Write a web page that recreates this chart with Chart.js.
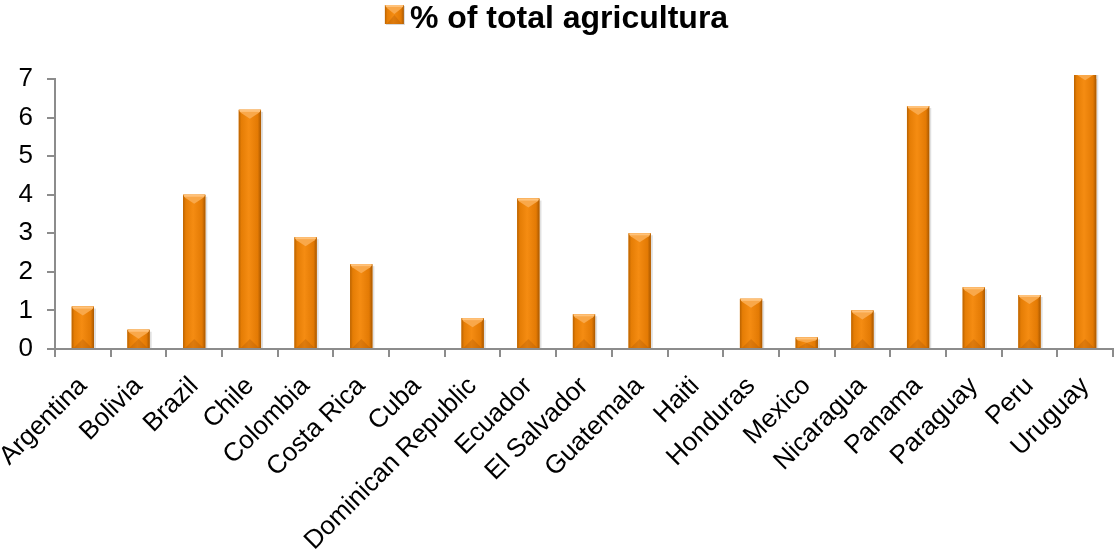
<!DOCTYPE html>
<html>
<head>
<meta charset="utf-8">
<script src="https://cdn.jsdelivr.net/npm/chart.js@4/dist/chart.umd.min.js"></script>
<style>
  html, body { margin: 0; padding: 0; background: #fff; }
  #wrap { width: 1115px; height: 554px; position: relative; }
</style>
</head>
<body>
<div id="wrap"><canvas id="agri"></canvas></div>
<script>
// countries and share of total agriculture (%)
var countries = ["Argentina", "Bolivia", "Brazil", "Chile", "Colombia", "Costa Rica", "Cuba",
  "Dominican Republic", "Ecuador", "El Salvador", "Guatemala", "Haiti", "Honduras", "Mexico",
  "Nicaragua", "Panama", "Paraguay", "Peru", "Uruguay"]
var agriShare = [1.1, 0.5, 4.0, 6.2, 2.9, 2.2, 0, 0.8, 3.9, 0.9, 3.0, 0, 1.3, 0.3, 1.0, 6.3, 1.6, 1.4, 7.2]
var yTicks = [0, 1, 2, 3, 4, 5, 6, 7]
var seriesName = "% of total agricultura"

var orange = "#EE8207"
var fontFam = "'Liberation Sans', Arial, sans-serif"

// bevelled orange block, used for bars and the legend swatch
function bevelBlock(ctx, l, top, w, h, base) {
  var r = l + w, cx = l + w / 2
  var g = ctx.createLinearGradient(l, 0, r, 0)
  g.addColorStop(0, "#B96200")
  g.addColorStop(0.12, "#E57D05")
  g.addColorStop(0.45, "#F58C12")
  g.addColorStop(0.85, "#E37A04")
  g.addColorStop(1, "#A95800")
  ctx.fillStyle = g
  ctx.fillRect(l, top, w, h)
  var b = Math.min(w / 2, h / 2, 9)
  ctx.fillStyle = "#F9A84A"
  ctx.beginPath()
  ctx.moveTo(l, top); ctx.lineTo(r, top); ctx.lineTo(r - 2, top + 3)
  ctx.lineTo(cx, top + b); ctx.lineTo(l + 2, top + 3); ctx.closePath()
  ctx.fill()
  ctx.fillStyle = "#FFC27A"
  ctx.fillRect(l + 1, top, w - 2, 2)
  ctx.fillStyle = "rgba(150,70,0,0.25)"
  ctx.beginPath()
  ctx.moveTo(l + 2, base); ctx.lineTo(r - 2, base); ctx.lineTo(cx, base - b); ctx.closePath()
  ctx.fill()
}

// extra room under the legend
var legendGap = {
  id: 'legendGap',
  afterInit: function(chart) {
    var lg = chart.legend
    if (!lg) return
    var fit = lg.fit
    lg.fit = function() {
      fit.call(this)
      this.height += 34
    }
  }
}

// bars with bevel shading, plus the legend swatch
var bevelBars = {
  id: 'bevelBars',
  afterDatasetsDraw: function(chart) {
    var ctx = chart.ctx
    var area = chart.chartArea
    var meta = chart.getDatasetMeta(0)
    ctx.save()
    ctx.beginPath()
    ctx.rect(area.left, area.top - 4, area.right - area.left, area.bottom - area.top + 4)
    ctx.clip()
    meta.data.forEach(function(bar) {
      var p = bar.getProps(['x', 'y', 'base', 'width'], true)
      var h = p.base - p.y
      if (h < 1) return
      var l = p.x - p.width / 2
      ctx.fillStyle = "rgba(0,0,0,0.12)"
      ctx.fillRect(l + p.width, p.y + 2, 2, h - 2)
      bevelBlock(ctx, l, p.y, p.width, h, p.base)
    })
    ctx.restore()
  },
  afterDraw: function(chart) {
    var lg = chart.legend
    if (!lg || !lg.legendHitBoxes || !lg.legendHitBoxes.length) return
    var hb = lg.legendHitBoxes[0]
    var ctx = chart.ctx
    ctx.save()
    ctx.fillStyle = "rgba(0,0,0,0.15)"
    ctx.fillRect(hb.left + 1, 6, 19, 19)
    bevelBlock(ctx, hb.left, 5, 19, 19, 24)
    ctx.restore()
  }
}

new Chart(document.getElementById('agri'), {
  type: 'bar',
  data: {
    labels: countries,
    datasets: [{
      label: seriesName,
      data: agriShare,
      backgroundColor: orange,
      borderWidth: 0,
      barPercentage: 0.4,
      categoryPercentage: 1
    }]
  },
  options: {
    responsive: true,
    maintainAspectRatio: false,
    animation: false,
    layout: { padding: { left: 0, right: 2, top: 0, bottom: 0 } },
    plugins: {
      tooltip: { enabled: false },
      legend: {
        position: 'top',
        labels: {
          color: '#000',
          boxWidth: 9,
          boxHeight: 17,
          padding: 3,
          font: { family: fontFam, size: 32, weight: 'bold' },
          generateLabels: function(chart) {
            return [{
              text: seriesName,
              fillStyle: 'rgba(0,0,0,0)',
              strokeStyle: 'rgba(0,0,0,0)',
              lineWidth: 0,
              fontColor: '#000',
              datasetIndex: 0
            }]
          }
        }
      }
    },
    scales: {
      x: {
        offset: true,
        afterFit: function(axis) {
          axis.height = 205
          axis.paddingLeft = 0
          axis.paddingRight = 0
        },
        border: { display: true, color: '#8C8C8C', width: 2 },
        grid: { display: true, offset: true, drawOnChartArea: false, drawTicks: true, tickLength: 8, color: '#8C8C8C', lineWidth: 2 },
        ticks: {
          color: '#000',
          minRotation: 45,
          maxRotation: 45,
          autoSkip: false,
          padding: 14,
          font: { family: fontFam, size: 26 }
        }
      },
      y: {
        min: 0,
        max: 7,
        afterFit: function(axis) { axis.width = 55 },
        afterBuildTicks: function(axis) {
          axis.ticks = yTicks.map(function(v) { return { value: v } })
        },
        border: { display: true, color: '#8C8C8C', width: 2 },
        grid: { display: true, drawOnChartArea: false, drawTicks: true, tickLength: 8, color: '#8C8C8C', lineWidth: 2 },
        ticks: {
          color: '#000',
          padding: 14,
          font: { family: fontFam, size: 26 }
        }
      }
    }
  },
  plugins: [legendGap, bevelBars]
})
</script>
</body>
</html>
